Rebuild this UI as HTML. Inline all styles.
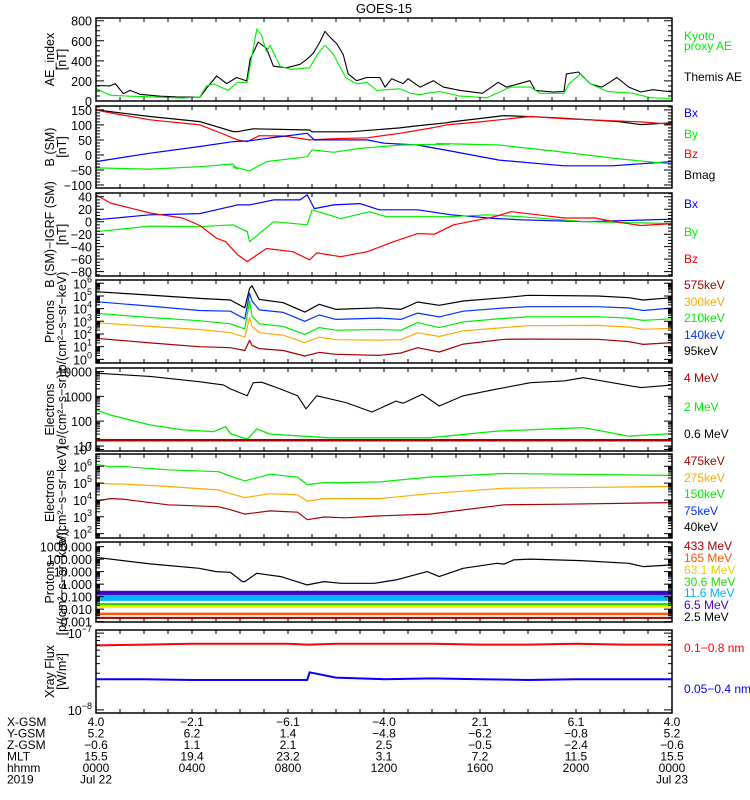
<!DOCTYPE html>
<html><head><meta charset="utf-8">
<style>
html,body{margin:0;padding:0;background:#fff;}
svg{display:block;font-family:"Liberation Sans",sans-serif;}
text{font-size:12px;fill:#000;}
</style></head>
<body>
<svg id="chart" width="750" height="800" viewBox="0 0 750 800" xmlns="http://www.w3.org/2000/svg">
<text x="384" y="13" text-anchor="middle" style="font-size:13px">GOES-15</text>
</svg>
<script>
// ---------- data ----------
const hourTicks = [0,1,2,3,4,5,6,7,8,9,10,11,12,13,14,15,16,17,18,19,20,21,22,23,24];
// Panel 1 AE index
const aeThemisT = [0,0.58,0.8,1.14,1.42,1.83,2.67,3.36,4.33,4.6,5.03,5.44,5.86,6.28,6.42,6.76,7.11,7.39,7.94,8.5,8.78,9.05,9.33,9.54,9.75,10.03,10.3,10.51,10.86,11.28,11.83,12.04,12.32,12.8,13.0,13.5,14.06,14.47,15.17,16.1,16.76,17.1,18.08,18.3,19.06,19.5,19.6,20.1,20.6,21.07,21.4,21.7,22.2,22.7,23.2,24];
const aeThemisV = [154,150,173,74,106,67,48,41,38,125,250,173,234,200,414,588,523,347,331,366,414,475,588,694,636,572,463,270,202,234,234,138,222,173,222,138,202,138,106,77,186,138,202,106,90,96,270,289,170,138,186,234,138,90,113,90];
const aeKyotoT = [0,0.3,0.6,1.4,2.4,3.6,4.33,4.6,4.9,5.5,5.9,6.3,6.7,6.9,7.1,7.25,7.67,8.1,8.9,9.26,9.54,9.9,10.4,10.86,11.28,11.7,12.66,13.1,13.5,14.3,15.1,16.3,17.25,18.1,18.5,19.5,19.7,20.2,20.6,21.3,22.4,23.1,24];
const aeKyotoV = [125,90,58,48,41,29,41,150,170,106,186,186,716,652,492,556,347,315,331,475,556,463,234,170,186,106,122,77,64,96,51,32,138,138,77,77,170,270,170,96,77,32,25];
// Panel 2 B (SM)
const bT = [0,2.25,4.33,5.7,5.86,6.55,8.9,9.0,10.58,12.66,13.5,14.6,14.9,17.0,19.1,21.8,22.7,24];
const bBmag = [150,128,111,78,77,87,83,77,77,90,98,107,111,131,124,111,101,107];
const bzT = [0,0.6,2.25,4.33,5.2,5.9,6.3,6.8,7.8,8.9,9.9,11.3,12.66,14.0,14.6,16.0,18.1,19.6,22.7,24];
const bzV = [150,140,117,100,73,50,44,64,63,50,54,57,72,90,100,110,128,120,110,102];
const bxT = [0,2.25,4.33,5.7,6.4,7.4,8.8,9.1,11.3,12.0,13.4,14.8,16.8,19.5,21.5,24];
const bxV = [-22,6,28,44,47,58,72,50,50,39,33,13,-17,-36,-36,-22];
const byT = [0,2.25,4.33,5.7,5.9,5.7,6.4,7.1,8.8,9.0,9.9,11.0,12.7,14.7,14.2,16.8,19.1,21.8,24];
const byV = [-43,-47,-39,-30,-47,-39,-53,-22,-6,17,9,22,33,36,38,33,13,-13,-30];
// Panel 3 B-IGRF
const dBxT = [0,2.25,4.33,5.9,6.4,7.4,8.5,8.8,9.1,9.9,11.0,11.8,13.4,14.8,16.7,17.7,20.4,24];
const dBxV = [3,11,13,27,27,35,35,43,21,27,29,19,19,11,5,3,0,4];
const dByT = [0,2.25,4.33,5.7,6.3,6.4,7.4,8.8,9.0,10.2,11.4,12.1,14.8,16.3,17.7,20.4,24];
const dByV = [-16,-7,-8,-5,-16,-32,0,-5,19,5,16,8,8,11,8,0,-3];
const dBzT = [0,0.6,2.25,3.6,4.33,5.0,5.4,5.9,6.3,7.1,8.2,8.9,9.2,10.2,11.3,12.4,13.4,14.1,14.9,16.6,17.3,18.4,19.5,20.8,21.6,22.7,24];
const dBzV = [43,30,14,6,-6,-26,-32,-53,-64,-43,-48,-61,-50,-56,-48,-32,-19,-20,-5,8,16,11,6,6,0,-6,-3];
// Panel 4 protons (log10 flux)
const p4T = [0,2.25,4.3,5.6,6.2,6.4,6.5,6.8,7.8,8.7,9.3,10,11.8,12.7,13.4,14.3,15.3,17,18,20.9,22.2,22.8,24];
const p4Black = [5.34,5.07,4.81,4.68,4.07,5.6,5.8,4.73,4.47,3.73,4.34,3.94,4.07,3.94,4.52,4.26,4.6,4.86,5.05,5.0,4.86,4.68,4.86];
const p4Blue = [4.55,4.2,3.85,3.8,3.2,5.2,4.6,3.9,3.7,3.0,3.5,3.15,3.25,3.15,3.65,3.35,3.8,4.05,4.15,4.15,4.05,3.85,4.05];
const p4Green = [3.63,3.3,3.05,2.8,2.4,4.6,3.4,2.8,2.6,1.97,2.5,2.3,2.35,2.3,2.9,2.5,2.95,3.23,3.35,3.36,3.25,3.07,3.2];
const p4Orange = [2.89,2.6,2.35,2.1,1.75,3.3,2.6,2.1,1.9,1.31,1.75,1.55,1.52,1.55,2.1,1.8,2.25,2.5,2.65,2.68,2.55,2.37,2.45];
const p4Red = [1.66,1.3,1.0,0.92,0.7,1.5,1.1,0.85,0.7,0.26,0.55,0.4,0.31,0.5,0.92,0.58,1.2,1.58,1.6,1.58,1.4,1.18,1.32];
// Panel 5 electrons (log10)
const e5T = [0,2.25,4.3,5.3,5.6,6.3,6.55,6.9,7.7,8.4,8.75,9.2,10.4,11.5,12.5,12.8,13.6,14.3,15.3,16.7,18.1,19.5,20.3,22.7,24];
const e5Black = [3.93,3.8,3.59,3.46,3.3,3.02,3.55,3.57,3.29,3.02,2.5,3.02,2.75,2.37,2.81,2.72,3.08,2.61,3.02,3.29,3.55,3.62,3.75,3.35,3.45];
const e5GreenT = [0,0.6,2.25,3.6,4.9,5.4,5.6,6.3,6.7,7.25,9.75,13.9,16.7,20.3,22.2,24];
const e5Green = [2.45,2.25,1.85,1.65,1.58,1.78,1.5,1.27,1.69,1.48,1.33,1.33,1.6,1.74,1.4,1.5];
const e5RedT = [0,6,12,18,24];
const e5Red = [1.23,1.23,1.23,1.23,1.23];
// Panel 6 electrons (log10)
const e6T = [0,0.6,1.1,3,5.1,5.6,6.2,7.25,8.4,8.8,9.5,10.4,11.8,13.9,17,19.5,24];
const e6Green = [6.12,5.97,5.99,5.79,5.68,5.42,5.13,5.53,5.36,4.91,5.03,5.03,5.07,5.36,5.57,5.53,5.46];
const e6Orange = [5.03,4.95,4.95,4.8,4.59,4.37,4.14,4.37,4.3,3.93,4.08,4.08,4.08,4.37,4.7,4.73,4.8];
const e6Red = [3.93,4.08,4.05,3.71,3.6,3.42,3.16,3.35,3.27,2.83,2.99,2.94,3.05,3.16,3.71,3.75,3.84];
// Panel 7 protons (log10)
const p7T = [0,2.25,4.3,5.0,5.6,6.1,6.2,6.7,7.7,8.8,9.5,10.2,11.6,12.5,13.8,14.3,15.3,16.7,17,17.4,18.1,20.2,22.2,22.8,24];
const p7Black = [2.15,1.62,1.27,1.0,0.95,0.2,0.2,0.87,0.6,-0.06,0.2,0.07,0.07,0.34,1.0,0.6,1.27,1.67,1.6,1.94,2.0,1.88,1.67,1.4,1.54];
const p7BandT = [0,12,24];
const p7Violet = [-0.85,-0.85,-0.85];
const p7Cyan = [-1.1,-1.1,-1.1];
const p7Green = [-1.65,-1.65,-1.65];
const p7Yellow = [-1.8,-1.8,-1.8];
const p7Orange = [-2.38,-2.38,-2.38];
const p7Red = [-2.7,-2.7,-2.7];
// Panel 8 X-ray (log10 W/m2)
const xT = [0,2,4,6,8,8.8,8.9,10,12,14,16,18,20,22,24];
const xRed = [-7.16,-7.15,-7.14,-7.14,-7.14,-7.15,-7.15,-7.14,-7.14,-7.14,-7.15,-7.15,-7.14,-7.15,-7.15];
const xBlue = [-7.6,-7.6,-7.61,-7.61,-7.61,-7.61,-7.51,-7.58,-7.6,-7.59,-7.6,-7.61,-7.6,-7.6,-7.6];
// Ephemeris
const ephCols = [0,4,8,12,16,20,24];
const xgsm = ["4.0","-2.1","-6.1","-4.0","2.1","6.1","4.0"];
const ygsm = ["5.2","6.2","1.4","-4.8","-6.2","-0.8","5.2"];
const zgsm = ["-0.6","1.1","2.1","2.5","-0.5","-2.4","-0.6"];
const mlt = ["15.5","19.4","23.2","3.1","7.2","11.5","15.5"];
const hhmm = ["0000","0400","0800","1200","1600","2000","0000"];
const dates = ["Jul 22","","","","","","Jul 23"];

// ---------- drawing ----------
const svg = document.getElementById('chart');
const NS = 'http://www.w3.org/2000/svg';
const X0 = 96, X1 = 672;
function xs(t){ return X0 + (X1 - X0) * t / 24; }
function mk(tag, attrs, parent){
  const e = document.createElementNS(NS, tag);
  for (const k in attrs) e.setAttribute(k, attrs[k]);
  (parent || svg).appendChild(e);
  return e;
}
function panel(top, bot, vmin, vmax){
  return {top: top, bot: bot, y: v => bot - (v - vmin) / (vmax - vmin) * (bot - top)};
}
const P = [
  panel(18,101,0,827),
  panel(106,188,-110,163),
  panel(193,276,-87,46),
  panel(280,363,-0.29,6.26),
  panel(368,451,0.8,4.14),
  panel(454,538,1.74,6.73),
  panel(542,622,-3.03,3.37),
  panel(630,713,-8.04,-6.96)
];
function series(p, T, V, color, w, name){
  let d = '';
  for (let i = 0; i < T.length; i++) d += (i ? 'L' : 'M') + xs(T[i]).toFixed(1) + ' ' + p.y(V[i]).toFixed(1);
  const e = mk('path', {d: d, fill: 'none', stroke: color, 'stroke-width': w, 'stroke-linejoin': 'round'});
  
  
  return e;
}
function frame(p, idx){
  const r = mk('rect', {x: X0, y: p.top, width: X1 - X0, height: p.bot - p.top, fill: 'none', stroke: '#000', 'stroke-width': 1.5});
  
  
  let d = '';
  hourTicks.forEach(h => { const x = xs(h); d += `M${x} ${p.top}v4M${x} ${p.bot}v-4`; });
  const t = mk('path', {d: d, stroke: '#000', 'stroke-width': 1});
  
  
}
function yticks(p, idx, majors, minors, labels, sup){
  let d = '';
  majors.forEach(v => { const y = p.y(v); d += `M${X0} ${y}h8M${X1} ${y}h-8`; });
  minors.forEach(v => { const y = p.y(v); if (y >= p.top && y <= p.bot) d += `M${X0} ${y}h4M${X1} ${y}h-4`; });
  const e = mk('path', {d: d, stroke: '#000', 'stroke-width': 1});
  
  
  majors.forEach((v, i) => {
    const tx = mk('text', {x: 92, y: p.y(v) + 5, 'text-anchor': 'end', style: 'font-size:12.5px'});
    
    
    if (sup) {
      tx.textContent = '10';
      const s = mk('tspan', {dy: -6, style: 'font-size:9px'}, tx);
      s.textContent = labels[i];
    } else tx.textContent = labels[i];
  });
}
function range(a, b, s){ const r = []; for (let v = a; v <= b + 1e-9; v += s) r.push(v); return r; }
function logMinor(a, b){ const r = []; for (let dcd = a; dcd <= b; dcd++) for (let k = 2; k <= 9; k++) r.push(dcd + Math.log10(k)); return r; }
function ytitle(p, l1, l2){
  const cy = (p.top + p.bot) / 2;
  const t1 = mk('text', {transform: `translate(54 ${cy}) rotate(-90)`, 'text-anchor': 'middle', style: 'font-size:12.5px'});
  t1.textContent = l1;
  
  
  const t2 = mk('text', {transform: `translate(66 ${cy}) rotate(-90)`, 'text-anchor': 'middle', style: 'font-size:12.5px'});
  t2.textContent = l2;
  
  
}
function legend(y, txt, color){
  const t = mk('text', {x: 684, y: y, fill: color, style: 'font-size:12px;fill:' + color});
  t.textContent = txt;
  
  
}
const GRN = '#00ee00', DRED = '#aa0000', ORG = '#ffaa00';

// Panel 1
series(P[0], aeThemisT, aeThemisV, '#000', 1.1, 'themis-ae-line');
series(P[0], aeKyotoT, aeKyotoV, GRN, 1.1, 'kyoto-ae-line');
// Panel 2
series(P[1], bT, bBmag, '#000', 1.2, 'bmag-line');
series(P[1], bzT, bzV, '#ff0000', 1.2, 'bz-line');
series(P[1], bxT, bxV, '#0000ff', 1.2, 'bx-line');
series(P[1], byT, byV, GRN, 1.2, 'by-line');
// Panel 3
series(P[2], dBxT, dBxV, '#0000ff', 1.2, 'dbx-line');
series(P[2], dByT, dByV, GRN, 1.2, 'dby-line');
series(P[2], dBzT, dBzV, '#ff0000', 1.2, 'dbz-line');
// Panel 4
series(P[3], p4T, p4Black, '#000', 1.2, 'proton-95kev-line');
series(P[3], p4T, p4Blue, '#0033ff', 1.2, 'proton-140kev-line');
series(P[3], p4T, p4Green, GRN, 1.2, 'proton-210kev-line');
series(P[3], p4T, p4Orange, ORG, 1.2, 'proton-300kev-line');
series(P[3], p4T, p4Red, DRED, 1.2, 'proton-575kev-line');
// Panel 5
series(P[4], e5T, e5Black, '#000', 1.1, 'electron-0.6mev-line');
series(P[4], e5GreenT, e5Green, GRN, 1.3, 'electron-2mev-line');
series(P[4], e5RedT, e5Red, DRED, 2.5, 'electron-4mev-line');
// Panel 6
series(P[5], e6T, e6Green, GRN, 1.2, 'electron-150kev-line');
series(P[5], e6T, e6Orange, ORG, 1.2, 'electron-275kev-line');
series(P[5], e6T, e6Red, DRED, 1.2, 'electron-475kev-line');
// Panel 7
series(P[6], p7BandT, p7Violet, '#4400cc', 8, 'proton-6.5mev-band');
series(P[6], p7BandT, p7Cyan, '#00b4ff', 6, 'proton-11.6mev-band');
series(P[6], p7BandT, p7Green, '#22dd00', 3.5, 'proton-30.6mev-band');
series(P[6], p7BandT, p7Yellow, '#ffee00', 2.5, 'proton-63.1mev-band');
series(P[6], p7BandT, p7Orange, '#ff5500', 2.5, 'proton-165mev-band');
series(P[6], p7BandT, p7Red, DRED, 2, 'proton-433mev-band');
series(P[6], p7T, p7Black, '#000', 1.2, 'proton-2.5mev-line');
// Panel 8
series(P[7], xT, xRed, '#ff0000', 2, 'xray-long-line');
series(P[7], xT, xBlue, '#0000ff', 2, 'xray-short-line');

P.forEach((p, i) => frame(p, i + 1));
yticks(P[0], 1, [0,200,400,600,800], range(0,800,50), ['0','200','400','600','800']);
yticks(P[1], 2, [-100,-50,0,50,100,150], range(-110,160,10), ['−100','−50','0','50','100','150']);
yticks(P[2], 3, [-80,-60,-40,-20,0,20,40], range(-85,45,5), ['−80','−60','−40','−20','0','20','40']);
yticks(P[3], 4, [0,1,2,3,4,5,6], logMinor(-1,6), ['0','1','2','3','4','5','6'], true);
yticks(P[4], 5, [1,2,3,4], logMinor(0,4), ['10','100','1000','10000']);
yticks(P[5], 6, [2,3,4,5,6,7], logMinor(1,7), ['2','3','4','5','6','7'], true);
yticks(P[6], 7, [-3,-2,-1,0,1,2,3], logMinor(-4,3), ['0.001','0.010','0.100','1.000','10.000','100.000','1000.000']);
yticks(P[7], 8, [-8,-7], logMinor(-9,-7), ['−8','−7'], true);

ytitle(P[0], 'AE_index', '[nT]');
ytitle(P[1], 'B (SM)', '[nT]');
ytitle(P[2], 'B (SM)−IGRF (SM)', '[nT]');
ytitle(P[3], 'Protons', 'p/(cm²−s−sr−keV)');
ytitle(P[4], 'Electrons', '[e/(cm²−s−sr)]');
ytitle(P[5], 'Electrons', 'e/(cm²−s−sr−keV)');
ytitle(P[6], 'Protons', '[p/(cm²−s−sr−keV)]');
ytitle(P[7], 'Xray Flux', '[W/m²]');

legend(40,'Kyoto',GRN); legend(50,'proxy AE',GRN); legend(81,'Themis AE','#000');
legend(117,'Bx','#0000ff'); legend(138,'By',GRN); legend(158,'Bz','#ff0000'); legend(179,'Bmag','#000');
legend(208,'Bx','#0000ff'); legend(236,'By',GRN); legend(263,'Bz','#ff0000');
legend(289,'575keV',DRED); legend(306,'300keV',ORG); legend(322,'210keV',GRN); legend(339,'140keV','#0033ff'); legend(355,'95keV','#000');
legend(382,'4 MeV',DRED); legend(411,'2 MeV',GRN); legend(438,'0.6 MeV','#000');
legend(465,'475keV',DRED); legend(482,'275keV',ORG); legend(498,'150keV',GRN); legend(515,'75keV','#0033ff'); legend(531,'40keV','#000');
legend(550,'433 MeV',DRED); legend(562,'165 MeV','#ff5500'); legend(574,'63.1 MeV','#eecc00'); legend(586,'30.6 MeV','#22dd00'); legend(597,'11.6 MeV','#00b4ff'); legend(609,'6.5 MeV','#4400cc'); legend(621,'2.5 MeV','#000');
legend(652,'0.1−0.8 nm','#ff0000'); legend(693,'0.05−0.4 nm','#0000ff');

// Ephemeris table
const rows = [['X-GSM', xgsm, 726], ['Y-GSM', ygsm, 737.5], ['Z-GSM', zgsm, 749], ['MLT', mlt, 760.5], ['hhmm', hhmm, 772], ['2019', dates, 783.5]];
rows.forEach(r => {
  const lb = mk('text', {x: 7, y: r[2], style: 'font-size:12px'});
  lb.textContent = r[0];
  
  
  r[1].forEach((s, i) => {
    if (!s) return;
    const t = mk('text', {x: xs(ephCols[i]), y: r[2], 'text-anchor': 'middle', style: 'font-size:12px'});
    t.textContent = s.replace('-', '−');
    
    
  });
});
</script>
</body></html>
